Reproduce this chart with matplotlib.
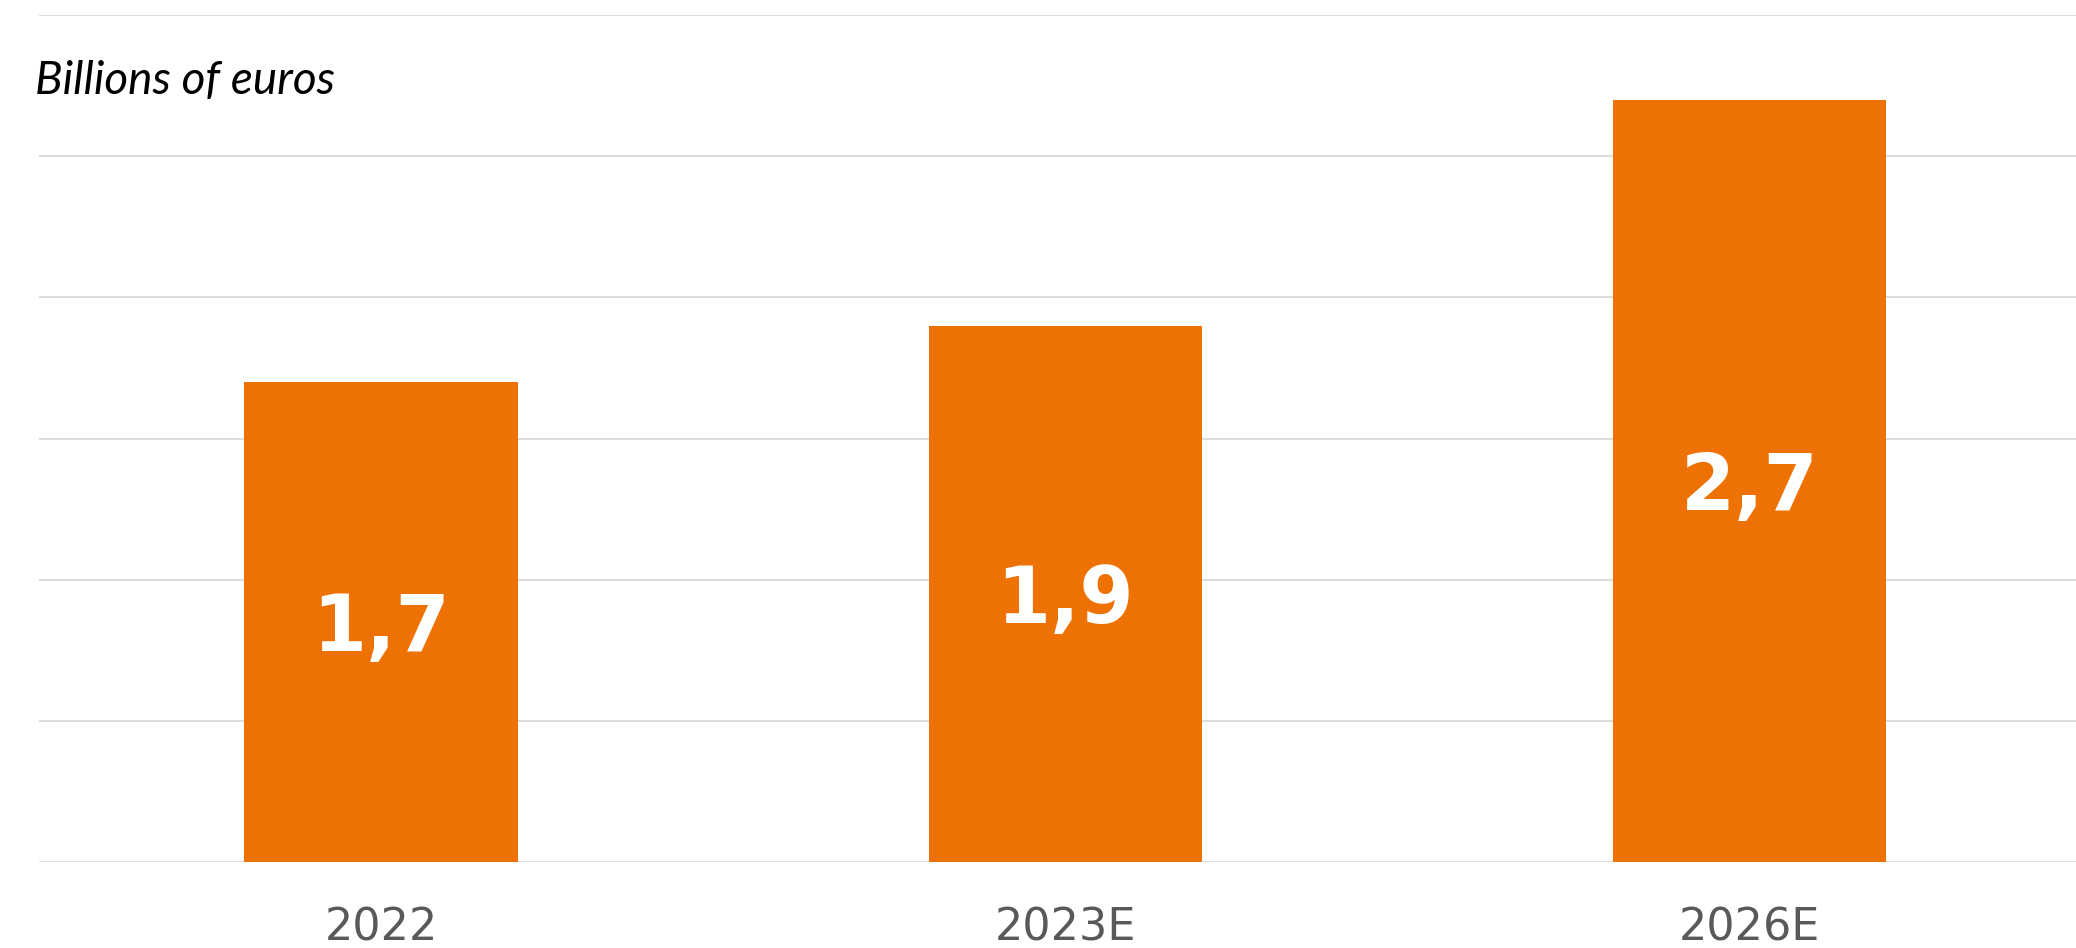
import matplotlib.pyplot as plt
import numpy as np

# chart data
years = ['2022', '2023E', '2026E']
values = [1.7, 1.9, 2.7]
value_labels = ['1,7', '1,9', '2,7']
y_ticks = [0, 0.5, 1.0, 1.5, 2.0, 2.5, 3.0]

bar_color = '#EE7203'
grid_color = '#d9d9d9'

fig = plt.figure(figsize=(20.76, 9.48), dpi=100)
ax = fig.add_axes([39 / 2076, 1 - 862 / 948, 1 - 39 / 2076, (862 - 15) / 948])

x = np.arange(len(years))
ax.bar(x, values, width=0.4, color=bar_color, zorder=2)

# value labels, centred in each bar
for xi, v, lab in zip(x, values, value_labels):
    ax.annotate(lab, (xi, v / 2), xytext=(0, -21), textcoords='offset points',
                ha='center', va='baseline', color='white', fontsize=56,
                family='DejaVu Sans', weight='bold', zorder=3)

ax.set_xlim(-0.5, 2.477)
ax.set_ylim(0, 3)
ax.set_yticks(y_ticks)
ax.set_yticklabels([])
ax.set_xticks(x)
ax.set_xticklabels(years, fontsize=32, color='#595959', family='DejaVu Sans')
ax.tick_params(axis='both', length=0)
ax.tick_params(axis='x', pad=32)

ax.grid(axis='y', color=grid_color, linewidth=1.3, zorder=0)
ax.set_axisbelow(True)
for s in ax.spines.values():
    s.set_visible(False)

fig.text(35 / 2076, 1 - 94 / 948, 'Billions of euros', fontsize=33,
         family='Lato', style='italic', color='black',
         ha='left', va='baseline')

fig.savefig('out.png', dpi=100)
plt.close(fig)
